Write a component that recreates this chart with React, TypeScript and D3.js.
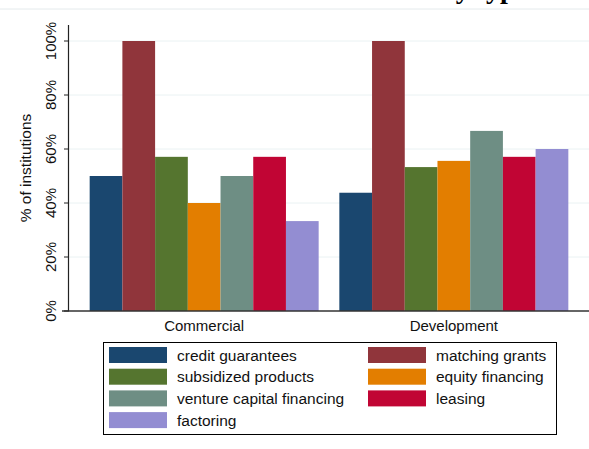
import React from "react";
import * as d3 from "d3";

const categories = ["Commercial", "Development"];
const seriesNames = [
  "credit guarantees",
  "matching grants",
  "subsidized products",
  "equity financing",
  "venture capital financing",
  "leasing",
  "factoring",
];
const seriesColors = ["#1a476f", "#90353b", "#55752f", "#e37e00", "#6e8e84", "#c10534", "#938dd2"];
const commercialValues = [50, 100, 57.1, 40, 50, 57.1, 33.3];
const developmentValues = [43.8, 100, 53.3, 55.6, 66.7, 57.1, 60];
const yTicks = [0, 20, 40, 60, 80, 100];
const yTitle = "% of institutions";
const titleText = "Instruments by type";

const W = 589;
const H = 449;
const sans = "'Liberation Sans', Arial, sans-serif";

export default function App() {
  const values = [commercialValues, developmentValues];
  const plotLeft = 69;
  const plotRight = 589;
  const x0 = d3.scaleBand<string>().domain(categories).range([plotLeft, plotRight]).padding(0.0828);
  const x1 = d3.scaleBand<string>().domain(seriesNames).range([0, x0.bandwidth()]).padding(0);
  const y = d3.scaleLinear().domain([0, 100]).range([311, 41]);

  const legendX = 103;
  const legendY = 342;
  const rowH = 21.7;
  const legendItems = seriesNames.map((name, i) => ({
    name,
    color: seriesColors[i],
    col: i === 6 ? 0 : i % 2,
    row: i === 6 ? 3 : Math.floor(i / 2),
  }));

  return (
    <svg
      width={W}
      height={H}
      style={{ position: "absolute", left: 0, top: 0, background: "#fff" }}
      fontFamily={sans}
    >
      <rect x={0} y={0} width={W} height={H} fill="#fff" />
      <text
        x={528}
        y={-2}
        textAnchor="end"
        fontFamily="'Liberation Serif', 'Times New Roman', serif"
        fontWeight="bold"
        fontSize={28}
        fill="#000"
      >
        {titleText}
      </text>
      <line x1={0} x2={W} y1={9} y2={9} stroke="#e4eaec" strokeWidth={1} />

      {/* gridlines */}
      {yTicks.filter((t) => t > 0).map((t) => (
        <line key={"g" + t} x1={plotLeft} x2={plotRight} y1={y(t)} y2={y(t)} stroke="#eaf2f3" strokeWidth={1} />
      ))}

      {/* bars */}
      {categories.map((c, ci) => (
        <g key={c} transform={`translate(${x0(c)},0)`}>
          {seriesNames.map((s, si) => (
            <rect
              key={s}
              x={x1(s)}
              y={y(values[ci][si])}
              width={x1.bandwidth()}
              height={y(0) - y(values[ci][si])}
              fill={seriesColors[si]}
            />
          ))}
        </g>
      ))}

      {/* axes */}
      <line x1={plotLeft - 0.5} x2={plotLeft - 0.5} y1={25} y2={311} stroke="#222" strokeWidth={1.2} />
      <line x1={62} x2={plotRight} y1={311} y2={311} stroke="#333" strokeWidth={1.3} />
      {yTicks.map((t) => (
        <g key={"t" + t}>
          <line x1={64} x2={plotLeft} y1={y(t)} y2={y(t)} stroke="#222" strokeWidth={1} />
          <text
            transform={`translate(56,${y(t)}) rotate(-90)`}
            textAnchor="middle"
            fontSize={15}
            fill="#111"
          >
            {t + "%"}
          </text>
        </g>
      ))}
      <text transform={`translate(31,168) rotate(-90)`} textAnchor="middle" fontSize={15.5} fill="#111">
        {yTitle}
      </text>

      {categories.map((c) => (
        <text key={"c" + c} x={(x0(c) as number) + x0.bandwidth() / 2} y={331} textAnchor="middle" fontSize={15} fill="#111">
          {c}
        </text>
      ))}

      {/* legend */}
      <rect x={legendX + 0.5} y={legendY + 0.5} width={453} height={92} fill="#fff" stroke="#000" strokeWidth={1} />
      {legendItems.map((it) => {
        const sx = it.col === 0 ? 109 : 368;
        const sy = 347 + it.row * rowH;
        return (
          <g key={it.name}>
            <rect x={sx} y={sy} width={58} height={16} fill={it.color} />
            <text x={sx + 68} y={sy + 13.5} fontSize={15.5} fill="#111">
              {it.name}
            </text>
          </g>
        );
      })}
    </svg>
  );
}
